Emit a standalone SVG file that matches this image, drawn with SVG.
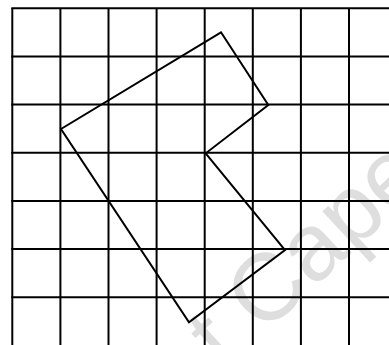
<svg xmlns="http://www.w3.org/2000/svg" width="389" height="345" viewBox="0 0 389 345">
<style>
.wm{font-family:"Liberation Sans",Arial,sans-serif;font-size:95px;fill:#dedede}
.grid line{stroke:#000;stroke-width:2}
.shape{fill:none;stroke:#000;stroke-width:2;stroke-linejoin:miter}
</style>
<rect width="389" height="345" fill="#fff"/>
<text class="wm" transform="translate(224.5,371.3) rotate(-43)">t Cape</text>
<g id="grid" class="grid">
<line x1="12.3" y1="8.3" x2="12.3" y2="345"/>
<line x1="60.4" y1="8.3" x2="60.4" y2="345"/>
<line x1="108.5" y1="8.3" x2="108.5" y2="345"/>
<line x1="156.6" y1="8.3" x2="156.6" y2="345"/>
<line x1="204.7" y1="8.3" x2="204.7" y2="345"/>
<line x1="252.8" y1="8.3" x2="252.8" y2="345"/>
<line x1="300.9" y1="8.3" x2="300.9" y2="345"/>
<line x1="349" y1="8.3" x2="349" y2="345"/>
<line x1="11.3" y1="8.3" x2="389" y2="8.3"/>
<line x1="11.3" y1="56.5" x2="389" y2="56.5"/>
<line x1="11.3" y1="104.6" x2="389" y2="104.6"/>
<line x1="11.3" y1="152.8" x2="389" y2="152.8"/>
<line x1="11.3" y1="201" x2="389" y2="201"/>
<line x1="11.3" y1="249.1" x2="389" y2="249.1"/>
<line x1="11.3" y1="297.3" x2="389" y2="297.3"/>
</g>
<g id="figure">
<polygon class="shape" points="221,32.3 268.3,105 205.7,153.3 285,250 189,322.3 61,129"/>
</g>
</svg>
